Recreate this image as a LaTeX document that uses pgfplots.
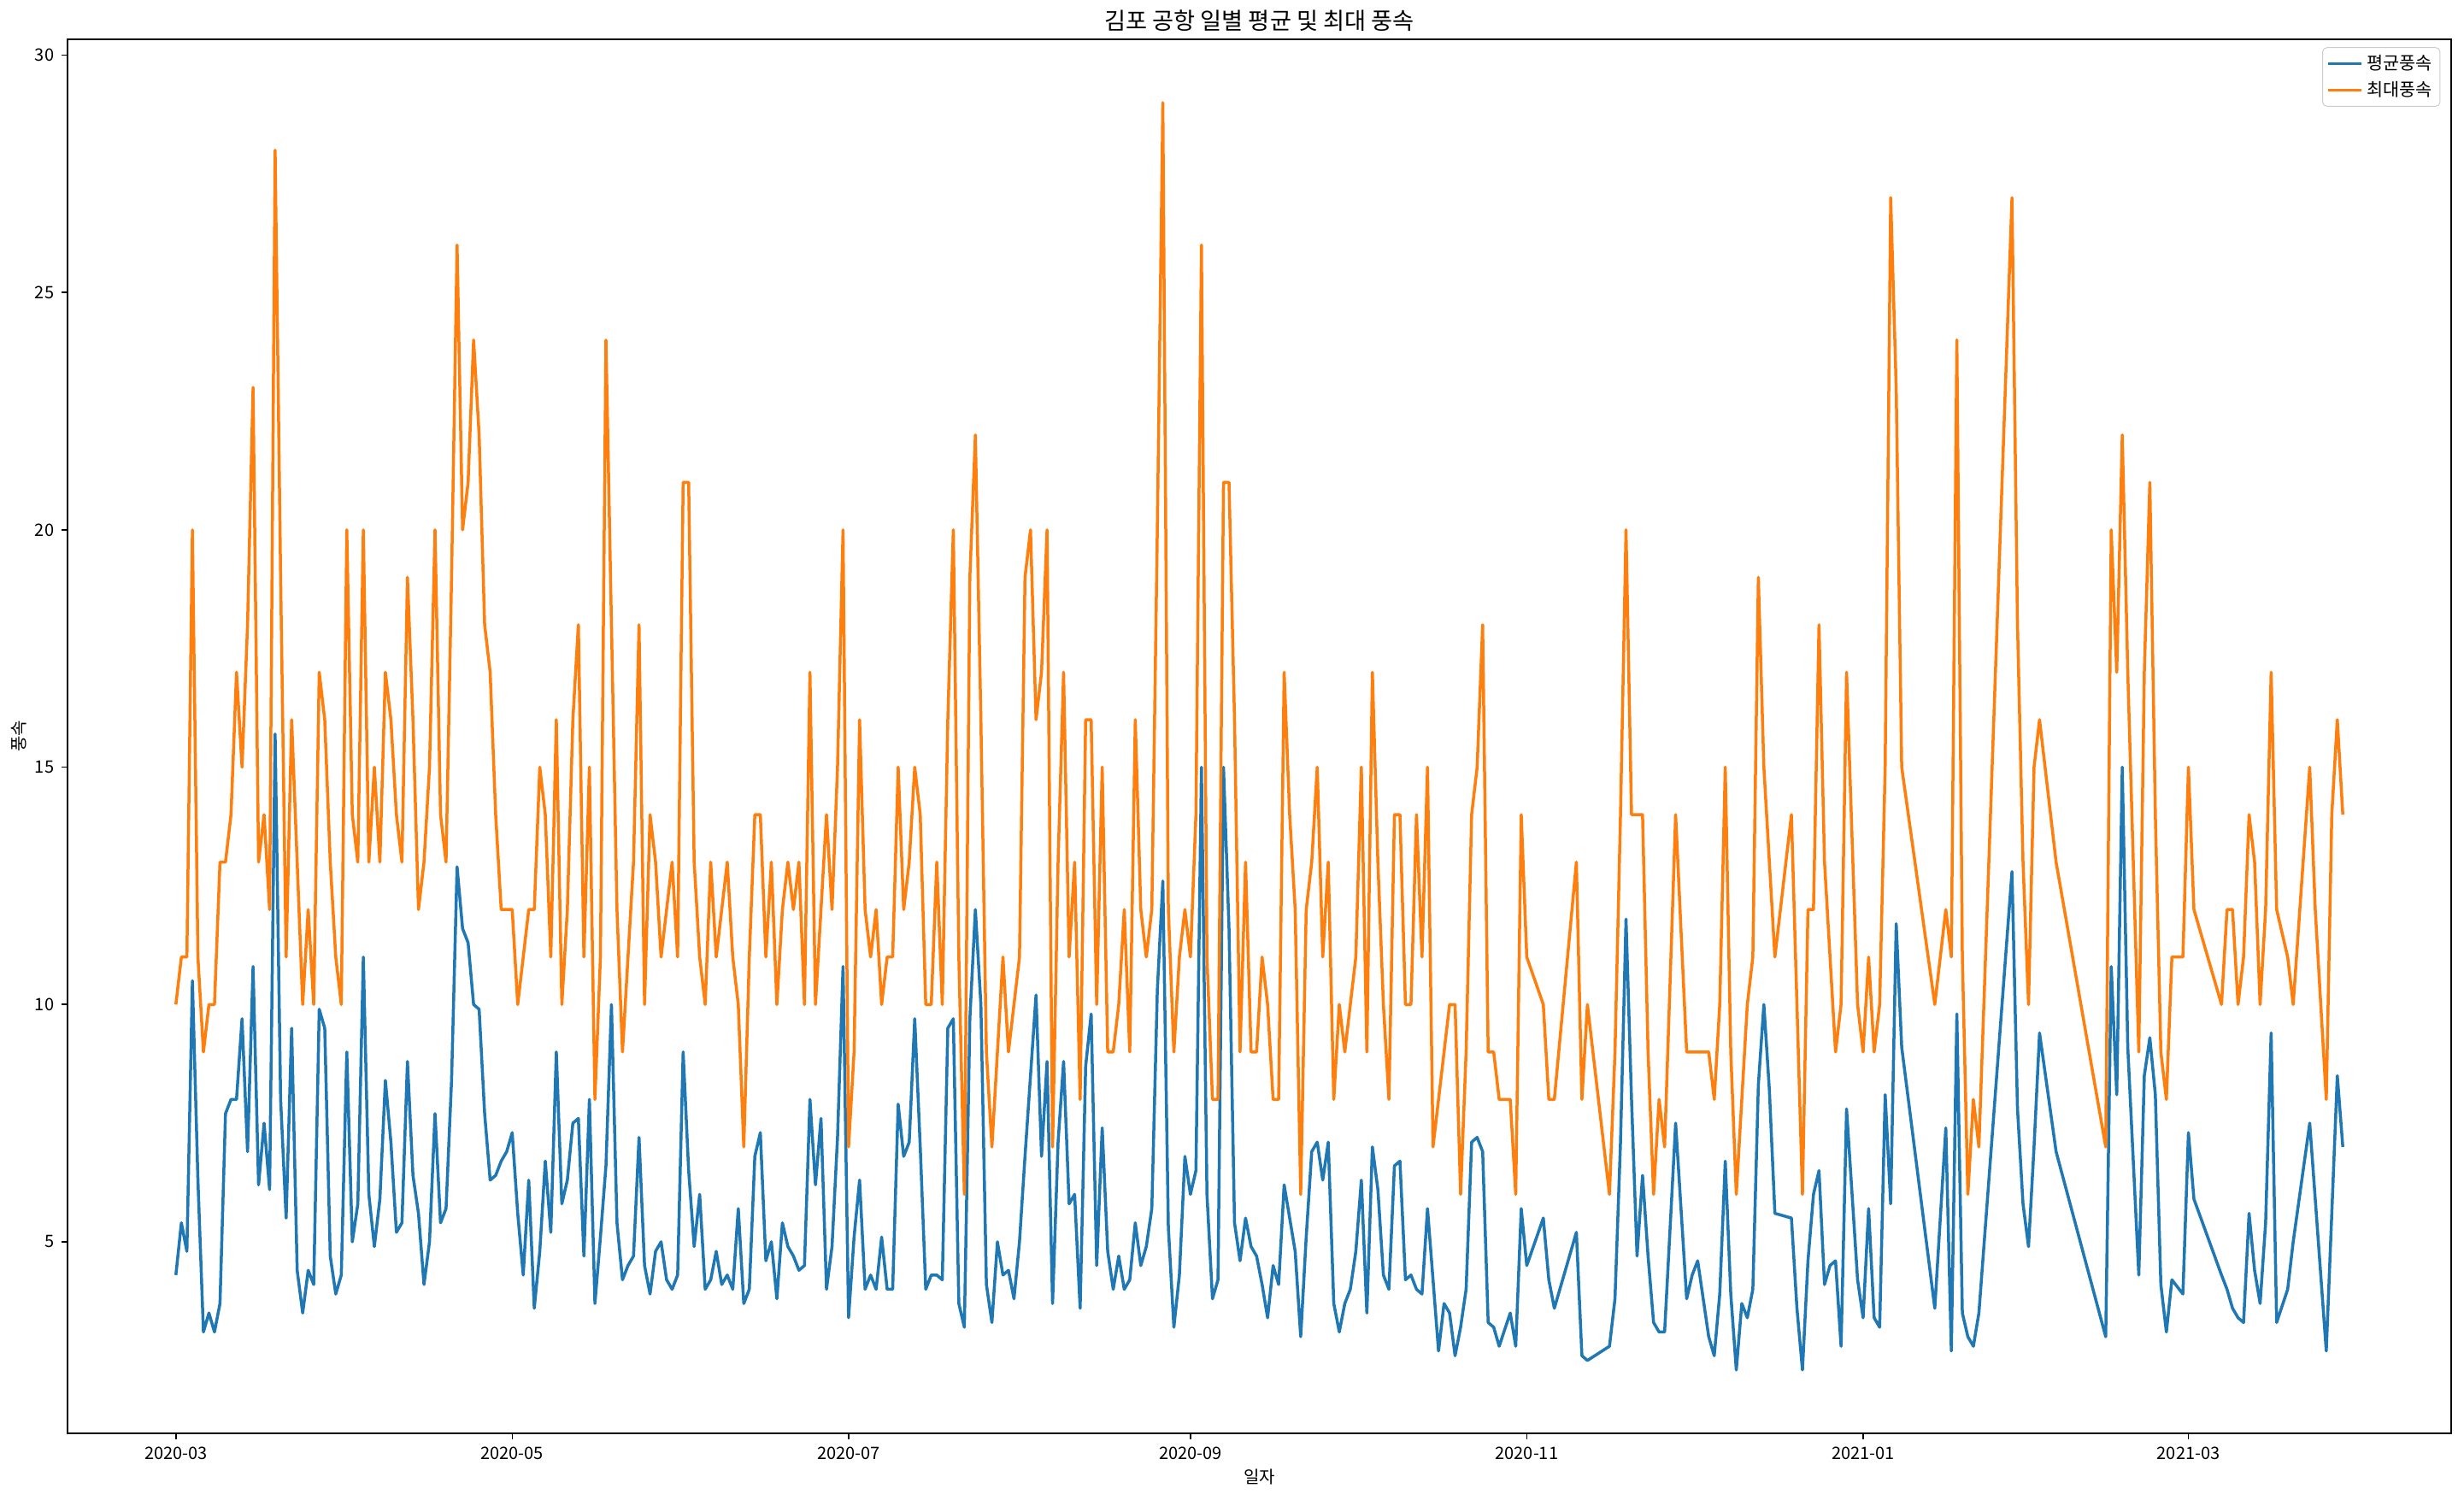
\documentclass[border=0pt]{standalone}
\usepackage{fontspec}
\setmainfont{Noto Sans CJK KR}
\usepackage{pgfplots}
\pgfplotsset{compat=1.18}
\usepackage{pgfplotstable}
\definecolor{mplblue}{HTML}{1F77B4}
\definecolor{mplorange}{HTML}{FF7F0E}

% day = days since 2020-03-01, avg = mean wind, max = max wind
\pgfplotstableread{
day avg max
0 4.3 10
1 5.4 11
2 4.8 11
3 10.5 20
4 6.3 11
5 3.1 9
6 3.5 10
7 3.1 10
8 3.7 13
9 7.7 13
10 8.0 14
11 8.0 17
12 9.7 15
13 6.9 18
14 10.8 23
15 6.2 13
16 7.5 14
17 6.1 12
18 15.7 28
19 8.0 19
20 5.5 11
21 9.5 16
22 4.4 13
23 3.5 10
24 4.4 12
25 4.1 10
26 9.9 17
27 9.5 16
28 4.7 13
29 3.9 11
30 4.3 10
31 9.0 20
32 5.0 14
33 5.8 13
34 11.0 20
35 6.0 13
36 4.9 15
37 5.9 13
38 8.4 17
39 7.1 16
40 5.2 14
41 5.4 13
42 8.8 19
43 6.4 16
44 5.6 12
45 4.1 13
46 5.0 15
47 7.7 20
48 5.4 14
49 5.7 13
50 8.4 19
51 12.9 26
52 11.6 20
53 11.3 21
54 10.0 24
55 9.9 22
56 7.7 18
57 6.3 17
58 6.4 14
59 6.7 12
60 6.9 12
61 7.3 12
62 5.6 10
63 4.3 11
64 6.3 12
65 3.6 12
66 4.8 15
67 6.7 14
68 5.2 11
69 9.0 16
70 5.8 10
71 6.3 12
72 7.5 16
73 7.6 18
74 4.7 11
75 8.0 15
76 3.7 8
77 5.1 11
78 6.6 24
79 10.0 18
80 5.4 12
81 4.2 9
82 4.5 11
83 4.7 13
84 7.2 18
85 4.5 10
86 3.9 14
87 4.8 13
88 5.0 11
89 4.2 12
90 4.0 13
91 4.3 11
92 9.0 21
93 6.5 21
94 4.9 13
95 6.0 11
96 4.0 10
97 4.2 13
98 4.8 11
99 4.1 12
100 4.3 13
101 4.0 11
102 5.7 10
103 3.7 7
104 4.0 11
105 6.8 14
106 7.3 14
107 4.6 11
108 5.0 13
109 3.8 10
110 5.4 12
111 4.9 13
112 4.7 12
113 4.4 13
114 4.5 10
115 8.0 17
116 6.2 10
117 7.6 12
118 4.0 14
119 4.9 12
120 7.2 15
121 10.8 20
122 3.4 7
123 5.1 9
124 6.3 16
125 4.0 12
126 4.3 11
127 4.0 12
128 5.1 10
129 4.0 11
130 4.0 11
131 7.9 15
132 6.8 12
133 7.1 13
134 9.7 15
135 7.0 14
136 4.0 10
137 4.3 10
138 4.3 13
139 4.2 10
140 9.5 16
141 9.7 20
142 3.7 11
143 3.2 6
144 9.7 19
145 12.0 22
146 10.0 16
147 4.1 9
148 3.3 7
149 5.0 9
150 4.3 11
151 4.4 9
152 3.8 10
153 5.0 11
154 6.8 19
155 8.5 20
156 10.2 16
157 6.8 17
158 8.8 20
159 3.7 7
160 7.1 13
161 8.8 17
162 5.8 11
163 6.0 13
164 3.6 8
165 8.7 16
166 9.8 16
167 4.5 10
168 7.4 15
169 4.8 9
170 4.0 9
171 4.7 10
172 4.0 12
173 4.2 9
174 5.4 16
175 4.5 12
176 4.9 11
177 5.7 12
178 10.3 20
179 12.6 29
180 5.3 12
181 3.2 9
182 4.3 11
183 6.8 12
184 6.0 11
185 6.5 14
186 15.0 26
187 6.0 11
188 3.8 8
189 4.2 8
190 15.0 21
191 11.6 21
192 5.4 16
193 4.6 9
194 5.5 13
195 4.9 9
196 4.7 9
197 4.1 11
198 3.4 10
199 4.5 8
200 4.1 8
201 6.2 17
202 5.5 14
203 4.8 12
204 3.0 6
205 5.1 12
206 6.9 13
207 7.1 15
208 6.3 11
209 7.1 13
210 3.7 8
211 3.1 10
212 3.7 9
213 4.0 10
214 4.8 11
215 6.3 15
216 3.5 9
217 7.0 17
218 6.1 13
219 4.3 10
220 4.0 8
221 6.6 14
222 6.7 14
223 4.2 10
224 4.3 10
225 4.0 14
226 3.9 11
227 5.7 15
228 4.2 7
229 2.7 8
230 3.7 9
231 3.5 10
232 2.6 10
233 3.2 6
234 4.0 9
235 7.1 14
236 7.2 15
237 6.9 18
238 3.3 9
239 3.2 9
240 2.8 8
242 3.5 8
243 2.8 6
244 5.7 14
245 4.5 11
248 5.5 10
249 4.2 8
250 3.6 8
254 5.2 13
255 2.6 8
256 2.5 10
260 2.8 6
261 3.8 9
262 7.1 14
263 11.8 20
264 8.0 14
265 4.7 14
266 6.4 14
267 4.7 9
268 3.3 6
269 3.1 8
270 3.1 7
272 7.5 14
274 3.8 9
275 4.3 9
276 4.6 9
278 3.0 9
279 2.6 8
280 3.9 10
281 6.7 15
282 3.9 9
283 2.3 6
284 3.7 8
285 3.4 10
286 4.0 11
287 8.3 19
288 10.0 15
289 8.2 13
290 5.6 11
293 5.5 14
294 3.6 10
295 2.3 6
296 4.6 12
297 6.0 12
298 6.5 18
299 4.1 13
300 4.5 11
301 4.6 9
302 2.8 10
303 7.8 17
305 4.2 10
306 3.4 9
307 5.7 11
308 3.4 9
309 3.2 10
310 8.1 15
311 5.8 27
312 11.7 23
313 9.1 15
319 3.6 10
321 7.4 12
322 2.7 11
323 9.8 24
324 3.5 11
325 3.0 6
326 2.8 8
327 3.5 7
333 12.8 27
334 7.8 18
335 5.8 13
336 4.9 10
337 7.0 15
338 9.4 16
341 6.9 13
350 3.0 7
351 10.8 20
352 8.1 17
353 15.0 22
354 9.1 17
356 4.3 9
357 8.5 17
358 9.3 21
359 8.1 14
360 4.1 9
361 3.1 8
362 4.2 11
364 3.9 11
365 7.3 15
366 5.9 12
371 4.3 10
372 4.0 12
373 3.6 12
374 3.4 10
375 3.3 11
376 5.6 14
377 4.4 13
378 3.7 10
379 5.4 12
380 9.4 17
381 3.3 12
383 4.0 11
384 5.0 10
387 7.5 15
388 5.9 12
390 2.7 8
391 5.6 14
392 8.5 16
393 7.0 14
}\wind

\begin{document}
\begin{tikzpicture}
\begin{axis}[
  at={(0,0)}, anchor=south west,
  scale only axis,
  width=1115.6pt, height=652.4pt,
  xmin=-19.65, xmax=412.65,
  ymin=0.965, ymax=30.335,
  xtick={0,61,122,184,245,306,365},
  xticklabels={2020-03,2020-05,2020-07,2020-09,2020-11,2021-01,2021-03},
  ytick={5,10,15,20,25,30},
  tick align=outside,
  tick pos=left,
  major tick length=2.8pt,
  every tick/.style={black, line width=0.65pt},
  axis line style={line width=0.65pt},
  tick label style={font=\fontsize{8}{9.6}\selectfont},
  /pgf/number format/assume math mode=true,
  label style={font=\fontsize{8}{9.6}\selectfont},
  title style={font=\fontsize{10.9}{13}\selectfont,
    at={(axis description cs:0.5,1)}, anchor=center, yshift=2.8pt},
  title={김포 공항 일별 평균 및 최대 풍속},
  xlabel={일자},
  xlabel style={at={(axis description cs:0.5,0)}, anchor=center, yshift=-20.4pt},
  ylabel={풍속},
  ylabel style={at={(axis description cs:-0.0204,0.5)}, anchor=center, rotate=0},
  legend style={at={(1,1)}, anchor=north east, xshift=-5pt, yshift=-3.7pt,
    draw=black!20, rounded corners=2pt, font=\fontsize{8.3}{10}\selectfont,
    inner xsep=2pt, inner ysep=1.5pt, row sep=0.5pt,
    nodes={inner sep=1.8pt}},
  legend cell align=left,
  legend image code/.code={\draw[#1] (0pt,0pt) -- (15.4pt,0pt);},
]
\addplot[mplblue, line width=1.4pt, mark=none, line join=round] table[x=day, y=avg]{\wind};
\addlegendentry{평균풍속}
\addplot[mplorange, line width=1.4pt, mark=none, line join=round] table[x=day, y=max]{\wind};
\addlegendentry{최대풍속}
\end{axis}
\pgfresetboundingbox
\path[use as bounding box] (-31.6pt,-30.8pt) rectangle (1121.6pt,670.8pt);
\end{tikzpicture}
\end{document}
